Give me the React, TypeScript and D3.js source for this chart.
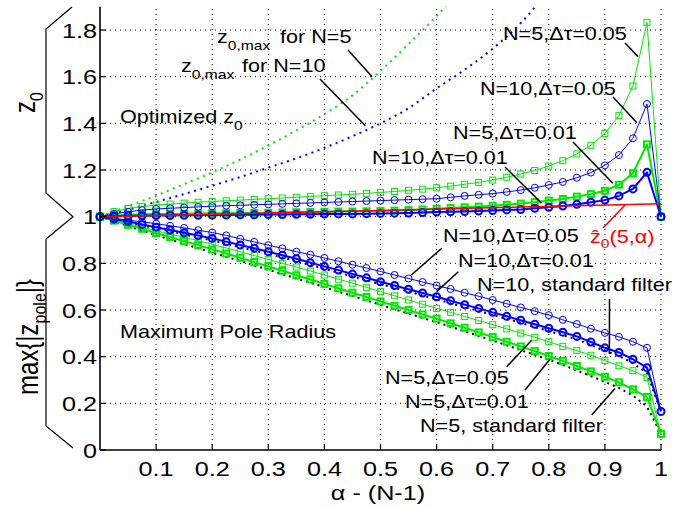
import React from "react";
import * as d3 from "d3";

const alpha = [0, 0.025, 0.05, 0.075, 0.1, 0.125, 0.15, 0.175, 0.2, 0.225, 0.25, 0.275, 0.3, 0.325, 0.35, 0.375, 0.4, 0.425, 0.45, 0.475, 0.5, 0.525, 0.55, 0.575, 0.6, 0.625, 0.65, 0.675, 0.7, 0.725, 0.75, 0.775, 0.8, 0.825, 0.85, 0.875, 0.9, 0.925, 0.95, 0.975, 1];

// Optimized z0
const z0N5dt05 = [1.0, 1.022, 1.035, 1.043, 1.05, 1.054, 1.058, 1.062, 1.065, 1.068, 1.071, 1.074, 1.077, 1.08, 1.083, 1.087, 1.09, 1.093, 1.096, 1.1, 1.104, 1.108, 1.113, 1.118, 1.124, 1.131, 1.139, 1.147, 1.157, 1.169, 1.183, 1.198, 1.217, 1.24, 1.269, 1.306, 1.357, 1.433, 1.56, 1.833, 1.0];
const z0N10dt05 = [1.0, 1.012, 1.021, 1.028, 1.033, 1.036, 1.039, 1.042, 1.045, 1.047, 1.049, 1.051, 1.053, 1.055, 1.057, 1.059, 1.061, 1.063, 1.065, 1.067, 1.069, 1.071, 1.073, 1.075, 1.077, 1.083, 1.089, 1.094, 1.099, 1.106, 1.114, 1.124, 1.136, 1.149, 1.167, 1.189, 1.22, 1.264, 1.336, 1.483, 1.0];
const z0N5dt01 = [1.0, 1.005, 1.008, 1.01, 1.011, 1.012, 1.013, 1.014, 1.015, 1.015, 1.016, 1.016, 1.017, 1.018, 1.019, 1.02, 1.021, 1.022, 1.022, 1.023, 1.024, 1.026, 1.028, 1.031, 1.034, 1.037, 1.04, 1.043, 1.047, 1.051, 1.056, 1.062, 1.069, 1.076, 1.086, 1.097, 1.111, 1.137, 1.186, 1.31, 1.0];
const z0N10dt01 = [1.0, 1.002, 1.003, 1.004, 1.005, 1.005, 1.006, 1.006, 1.007, 1.007, 1.008, 1.008, 1.009, 1.009, 1.01, 1.01, 1.011, 1.012, 1.012, 1.013, 1.014, 1.015, 1.016, 1.018, 1.02, 1.021, 1.022, 1.024, 1.026, 1.029, 1.031, 1.036, 1.04, 1.046, 1.053, 1.062, 1.071, 1.089, 1.119, 1.19, 1.0];

// Maximum pole radius
const rN10dt05 = [1.0, 0.993, 0.985, 0.978, 0.97, 0.961, 0.952, 0.942, 0.932, 0.92, 0.905, 0.892, 0.878, 0.864, 0.85, 0.837, 0.823, 0.809, 0.794, 0.78, 0.765, 0.75, 0.735, 0.72, 0.705, 0.69, 0.674, 0.659, 0.643, 0.627, 0.611, 0.595, 0.578, 0.558, 0.54, 0.52, 0.502, 0.485, 0.464, 0.438, 0.165];
const rN10dt01 = [1.0, 0.99, 0.979, 0.967, 0.955, 0.943, 0.931, 0.919, 0.907, 0.893, 0.879, 0.865, 0.85, 0.835, 0.82, 0.803, 0.787, 0.771, 0.754, 0.738, 0.721, 0.705, 0.689, 0.673, 0.657, 0.64, 0.623, 0.607, 0.59, 0.573, 0.556, 0.539, 0.522, 0.505, 0.487, 0.463, 0.438, 0.418, 0.389, 0.353, 0.165];
const rN10std = [1.0, 0.988, 0.976, 0.963, 0.95, 0.937, 0.924, 0.911, 0.898, 0.884, 0.869, 0.855, 0.84, 0.825, 0.809, 0.793, 0.777, 0.76, 0.744, 0.727, 0.711, 0.695, 0.679, 0.662, 0.646, 0.629, 0.612, 0.596, 0.579, 0.562, 0.545, 0.527, 0.51, 0.492, 0.474, 0.45, 0.425, 0.403, 0.372, 0.33, 0.165];
const rN5dt05 = [1.0, 0.985, 0.97, 0.955, 0.94, 0.926, 0.911, 0.897, 0.882, 0.866, 0.85, 0.833, 0.817, 0.8, 0.784, 0.767, 0.75, 0.732, 0.715, 0.697, 0.679, 0.661, 0.643, 0.625, 0.607, 0.59, 0.572, 0.555, 0.537, 0.519, 0.501, 0.483, 0.464, 0.444, 0.426, 0.406, 0.383, 0.361, 0.34, 0.311, 0.069];
const rN5dt01 = [1.0, 0.983, 0.965, 0.948, 0.93, 0.913, 0.895, 0.878, 0.86, 0.842, 0.824, 0.805, 0.787, 0.768, 0.749, 0.731, 0.712, 0.693, 0.674, 0.656, 0.637, 0.618, 0.6, 0.581, 0.563, 0.543, 0.524, 0.504, 0.484, 0.464, 0.444, 0.424, 0.403, 0.382, 0.36, 0.337, 0.314, 0.29, 0.26, 0.227, 0.069];
const rN5std = [1.0, 0.981, 0.96, 0.941, 0.92, 0.902, 0.883, 0.865, 0.846, 0.828, 0.81, 0.791, 0.773, 0.754, 0.735, 0.717, 0.698, 0.679, 0.66, 0.641, 0.622, 0.603, 0.585, 0.566, 0.548, 0.528, 0.509, 0.489, 0.469, 0.449, 0.428, 0.408, 0.387, 0.365, 0.341, 0.317, 0.292, 0.266, 0.233, 0.186, 0.069];

// z0,max curves and estimated z0
const zmaxAlpha = [0, 0.05, 0.1, 0.15, 0.2, 0.25, 0.3, 0.35, 0.4, 0.45, 0.5, 0.55, 0.6, 0.65, 0.7, 0.75, 0.8];
const zmaxN5 = [1.0, 1.045, 1.09, 1.14, 1.19, 1.245, 1.305, 1.37, 1.44, 1.52, 1.625, 1.74, 1.86, 1.99, 2.13, 2.3, 2.5];
const zmaxN10 = [1.0, 1.03, 1.063, 1.097, 1.133, 1.17, 1.21, 1.25, 1.295, 1.345, 1.4, 1.465, 1.55, 1.63, 1.72, 1.83, 1.97];
const zhatAlpha = [0, 0.25, 0.5, 0.75, 1];
const zhatN5 = [1.0, 1.013, 1.027, 1.041, 1.055];

const xTicks = [0.1, 0.2, 0.3, 0.4, 0.5, 0.6, 0.7, 0.8, 0.9, 1];
const yTicks = [0, 0.2, 0.4, 0.6, 0.8, 1, 1.2, 1.4, 1.6, 1.8];

const GREEN = "#00e800";
const BLUE = "#0000ff";
const RED = "#ff0000";
const FONT = "'Liberation Sans', Arial, Helvetica, sans-serif";
const SX = 1.2;

const x = d3.scaleLinear().domain([0, 1]).range([100, 661]);
const y = d3.scaleLinear().domain([0, 1.9]).range([450, 6.7]);

function pathOf(xs: number[], ys: number[], curve?: any) {
  const g = d3.line<number>().x((_, i) => x(xs[i])).y((v) => y(v));
  if (curve) g.curve(curve);
  return g(ys) || "";
}

function Series({ vals, color, width, marker }: { vals: number[]; color: string; width: number; marker: "sq" | "ci" }) {
  return (
    <g>
      <path d={pathOf(alpha, vals)} fill="none" stroke={color} strokeWidth={width} strokeLinejoin="round" />
      {vals.map((v, i) =>
        marker === "sq" ? (
          <rect key={i} x={x(alpha[i]) - 3} y={y(v) - 3} width={6} height={6} fill="none" stroke={color} strokeWidth={width} />
        ) : (
          <circle key={i} cx={x(alpha[i])} cy={y(v)} r={3.5} fill="none" stroke={color} strokeWidth={width} />
        )
      )}
    </g>
  );
}

function T({ x: tx, y: ty, size = 18, anchor = "start", fill = "#000", children }: any) {
  return (
    <g transform={`translate(${tx},${ty}) scale(${SX},1)`}>
      <text x={0} y={0} fontSize={size} textAnchor={anchor} fill={fill} fontFamily={FONT}>
        {children}
      </text>
    </g>
  );
}

function Pointer({ x1, y1, a, v, color = "#000" }: any) {
  return <line x1={x1} y1={y1} x2={x(a)} y2={y(v)} stroke={color} strokeWidth={1.5} />;
}

export default function App() {
  const x0 = x(0), x1 = x(1), yb = y(0), yt = y(1.9);
  return (
    <svg width={678} height={508} style={{ position: "absolute", left: 0, top: 0, background: "#fff" }}>
      <defs>
        <clipPath id="plotclip">
          <rect x={x0} y={yt} width={x1 - x0 + 10} height={yb - yt} />
        </clipPath>
      </defs>
      <rect x={0} y={0} width={678} height={508} fill="#fff" />
      {/* grid */}
      {xTicks.map((t) => (
        <line key={"gx" + t} x1={x(t)} x2={x(t)} y1={yb} y2={yt} stroke="#000" strokeWidth={1} strokeDasharray="1,4" />
      ))}
      {yTicks.filter((t) => t > 0).map((t) => (
        <line key={"gy" + t} x1={x0} x2={x1} y1={y(t)} y2={y(t)} stroke="#000" strokeWidth={1} strokeDasharray="1,4" />
      ))}

      {/* z0,max dotted curves */}
      <g clipPath="url(#plotclip)">
        <path d={pathOf(zmaxAlpha, zmaxN5, d3.curveMonotoneX)} fill="none" stroke={GREEN} strokeWidth={2} strokeDasharray="2,4.5" />
        <path d={pathOf(zmaxAlpha, zmaxN10, d3.curveMonotoneX)} fill="none" stroke={BLUE} strokeWidth={2} strokeDasharray="2,4.5" />
      </g>

      {/* standard filters */}
      <path d={pathOf(alpha, rN5std)} fill="none" stroke="#000" strokeWidth={2} strokeDasharray="2,4" />
      <path d={pathOf(alpha, rN10std)} fill="none" stroke="#000" strokeWidth={2} strokeDasharray="2,4" />

      {/* pole radius */}
      <Series vals={rN5dt01} color={GREEN} width={2} marker="sq" />
      <Series vals={rN5dt05} color={GREEN} width={1} marker="sq" />
      <Series vals={rN10dt01} color={BLUE} width={2} marker="ci" />
      <Series vals={rN10dt05} color={BLUE} width={1} marker="ci" />

      {/* optimized z0 */}
      <Series vals={z0N5dt05} color={GREEN} width={1} marker="sq" />
      <Series vals={z0N5dt01} color={GREEN} width={2} marker="sq" />
      <Series vals={z0N10dt05} color={BLUE} width={1} marker="ci" />
      <Series vals={z0N10dt01} color={BLUE} width={2} marker="ci" />
      <path d={pathOf(zhatAlpha, zhatN5)} fill="none" stroke={RED} strokeWidth={1.5} />

      {/* axes */}
      <line x1={x0} x2={x0} y1={yt} y2={yb} stroke="#000" strokeWidth={1.6} />
      <line x1={x0} x2={x1} y1={yb} y2={yb} stroke="#000" strokeWidth={1.6} />
      {yTicks.map((t) => (
        <g key={"yt" + t}>
          <line x1={x0} x2={x0 + 6} y1={y(t)} y2={y(t)} stroke="#000" strokeWidth={1.2} />
          <T x={x0 - 3} y={y(t) + 7.5} size={21} anchor="end">{String(t)}</T>
        </g>
      ))}
      {xTicks.map((t) => (
        <g key={"xt" + t}>
          <line x1={x(t)} x2={x(t)} y1={yb} y2={yb - 6} stroke="#000" strokeWidth={1.2} />
          <T x={x(t)} y={476} size={21} anchor="middle">{String(t)}</T>
        </g>
      ))}
      <T x={378} y={500} size={21} anchor="middle">α - (N-1)</T>

      {/* left braces and labels */}
      <polyline points="72,7 46,29 46,193 73,216.7 46,239 46,426 73,448" fill="none" stroke="#000" strokeWidth={1.2} />
      <g transform={`translate(35,113) scale(${SX},1) rotate(-90)`}>
        <text fontSize={24} fontFamily={FONT}>z<tspan fontSize={16} dy={7}>0</tspan></text>
      </g>
      <g transform={`translate(38,395) scale(${SX},1) rotate(-90)`}>
        <text fontSize={24} fontFamily={FONT}>max{"{"}|z<tspan fontSize={16} dy={7}>pole</tspan><tspan dy={-7}>|{"}"}</tspan></text>
      </g>

      {/* annotations */}
      <T x={120} y={123}>Optimized z<tspan fontSize={13} dy={7}>0</tspan></T>
      <T x={120} y={338}>Maximum Pole Radius</T>

      <T x={217} y={43}>z<tspan fontSize={13} dy={7}>0,max</tspan></T>
      <T x={280} y={43}>for N=5</T>
      <Pointer x1={348} y1={50} a={0.485} v={1.6} />
      <T x={181} y={72}>z<tspan fontSize={13} dy={7}>0,max</tspan></T>
      <T x={242} y={72}>for N=10</T>
      <Pointer x1={320} y1={79} a={0.473} v={1.39} />

      <T x={503} y={40}>N=5,Δτ=0.05</T>
      <Pointer x1={625} y1={43} a={0.959} v={1.686} />
      <T x={480} y={95}>N=10,Δτ=0.05</T>
      <Pointer x1={613} y1={97} a={0.957} v={1.403} />
      <T x={453} y={139}>N=5,Δτ=0.01</T>
      <Pointer x1={573} y1={142} a={0.914} v={1.143} />
      <T x={372} y={164}>N=10,Δτ=0.01</T>
      <Pointer x1={505} y1={167} a={0.787} v={1.058} />

      <T x={590} y={243} fill={RED}>ẑ<tspan fontSize={13} dy={5}>0</tspan><tspan dy={-5}>(5,α)</tspan></T>
      <Pointer x1={603} y1={228} a={0.936} v={1.05} color={RED} />

      <T x={443} y={242}>N=10,Δτ=0.05</T>
      <Pointer x1={441.7} y1={248.3} a={0.555} v={0.75} />
      <T x={458} y={267}>N=10,Δτ=0.01</T>
      <Pointer x1={458.3} y1={271.7} a={0.6} v={0.679} />
      <T x={477} y={291}>N=10, standard filter</T>
      <Pointer x1={609.5} y1={299} a={0.908} v={0.411} />

      <T x={385} y={384}>N=5,Δτ=0.05</T>
      <Pointer x1={506.7} y1={366.7} a={0.769} v={0.469} />
      <T x={405} y={408}>N=5,Δτ=0.01</T>
      <Pointer x1={525} y1={390} a={0.802} v={0.389} />
      <T x={420} y={432}>N=5, standard filter</T>
      <Pointer x1={591.7} y1={415} a={0.918} v={0.264} />
    </svg>
  );
}
